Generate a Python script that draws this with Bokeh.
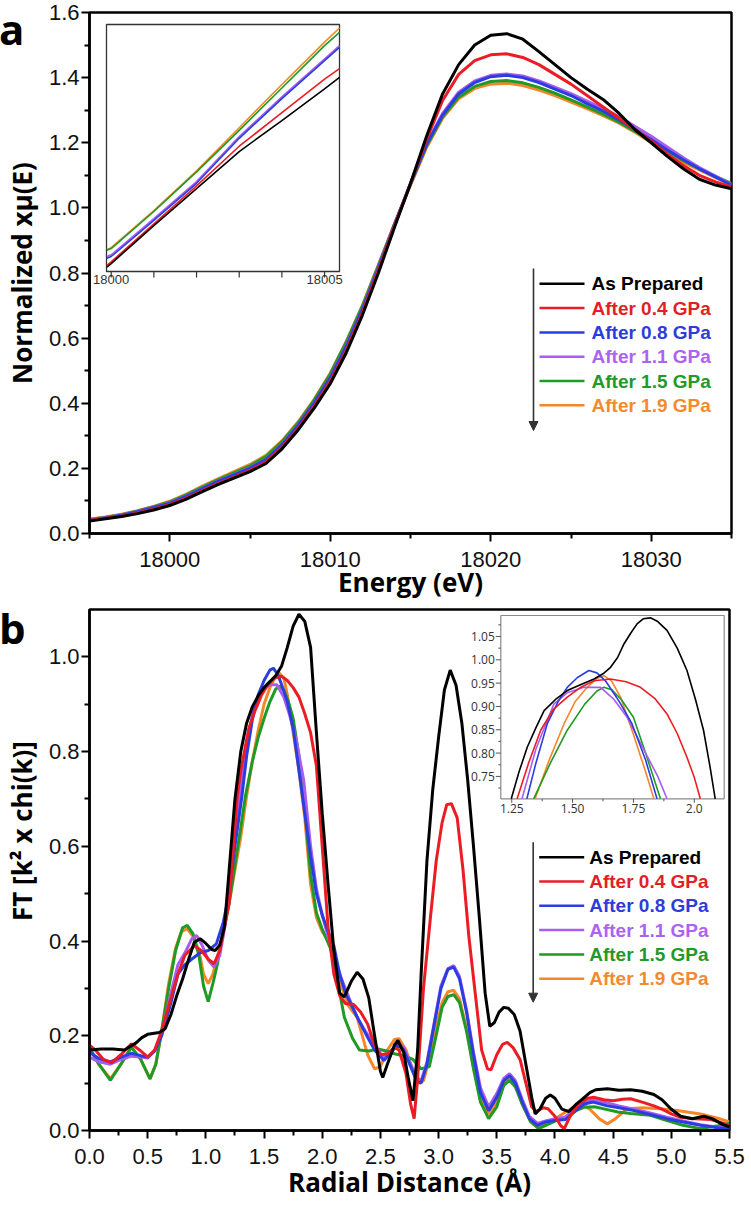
import numpy as np
from bokeh.plotting import figure
from bokeh.models import Range1d, FixedTicker, Label, Arrow, NormalHead, Div
from bokeh.layouts import column
from bokeh.embed import file_html
from bokeh.resources import INLINE
from bokeh.core.properties import value

# ======================= DATA =======================
series_names = ["As Prepared", "After 0.4 GPa", "After 0.8 GPa",
                "After 1.1 GPa", "After 1.5 GPa", "After 1.9 GPa"]
line_colors = ["#000000", "#ec1c24", "#2b3de0", "#a85cf0", "#1f9a24", "#f5862a"]
text_colors = ["#000000", "#e41e26", "#2e3cd8", "#ad62f2", "#23992a", "#f28a30"]
panel_letters = ["a", "b"]

# ---- panel a: normalized XANES ----
energy = list(range(17995, 18036))
mu_black = [0.038,0.045,0.052,0.061,0.072,0.086,0.105,0.128,0.150,0.170,0.190,0.215,0.260,0.318,0.385,0.460,0.555,0.670,0.800,0.940,1.075,1.220,1.350,1.440,1.500,1.530,1.535,1.518,1.480,1.440,1.400,1.365,1.333,1.290,1.240,1.200,1.158,1.120,1.088,1.070,1.059]
mu_red = [0.040,0.047,0.054,0.063,0.075,0.089,0.108,0.131,0.153,0.173,0.194,0.219,0.265,0.323,0.391,0.467,0.563,0.678,0.808,0.945,1.075,1.210,1.330,1.410,1.452,1.470,1.473,1.462,1.440,1.410,1.380,1.345,1.310,1.275,1.240,1.205,1.165,1.130,1.100,1.080,1.064]
mu_blue = [0.041,0.048,0.056,0.067,0.080,0.093,0.113,0.137,0.160,0.180,0.201,0.227,0.273,0.332,0.401,0.478,0.575,0.688,0.815,0.948,1.075,1.195,1.285,1.350,1.385,1.403,1.407,1.400,1.385,1.365,1.345,1.320,1.297,1.270,1.240,1.210,1.178,1.148,1.120,1.095,1.070]
mu_purple = [0.042,0.049,0.057,0.068,0.081,0.094,0.114,0.138,0.161,0.181,0.202,0.228,0.274,0.333,0.402,0.480,0.577,0.690,0.817,0.949,1.075,1.198,1.290,1.355,1.390,1.407,1.411,1.405,1.390,1.371,1.351,1.328,1.305,1.280,1.250,1.220,1.187,1.154,1.124,1.098,1.072]
mu_green = [0.043,0.050,0.058,0.069,0.082,0.097,0.118,0.142,0.165,0.186,0.208,0.236,0.282,0.340,0.410,0.490,0.588,0.698,0.823,0.950,1.072,1.190,1.280,1.340,1.373,1.388,1.391,1.384,1.370,1.352,1.332,1.310,1.288,1.263,1.235,1.205,1.175,1.145,1.120,1.097,1.075]
mu_orange = [0.044,0.051,0.059,0.070,0.083,0.099,0.120,0.145,0.168,0.190,0.212,0.240,0.285,0.343,0.412,0.492,0.590,0.700,0.825,0.950,1.070,1.185,1.275,1.335,1.367,1.380,1.383,1.376,1.362,1.345,1.325,1.305,1.283,1.260,1.232,1.200,1.170,1.140,1.117,1.093,1.070]
mu_series = [mu_black, mu_red, mu_blue, mu_purple, mu_green, mu_orange]

a_xticks = [18000, 18010, 18020, 18030]
a_xticklabels = ["18000", "18010", "18020", "18030"]
a_xminor = [17995, 18005, 18015, 18025, 18035]
a_yticks = [0.0, 0.2, 0.4, 0.6, 0.8, 1.0, 1.2, 1.4, 1.6]
a_yticklabels = ["0.0", "0.2", "0.4", "0.6", "0.8", "1.0", "1.2", "1.4", "1.6"]
a_yminor = [0.1, 0.3, 0.5, 0.7, 0.9, 1.1, 1.3, 1.5]

# inset a (zoom 18000-18005 eV)
ins_a_energy = [17999.9, 18000, 18001, 18002, 18003, 18004, 18005, 18005.35]
ins_a_black = [0.0825, 0.0845, 0.106, 0.127, 0.148, 0.1655, 0.1835, 0.190]
ins_a_red = [0.0835, 0.0855, 0.107, 0.1285, 0.151, 0.170, 0.189, 0.195]
ins_a_blue = [0.0875, 0.0885, 0.109, 0.130, 0.1555, 0.178, 0.1995, 0.207]
ins_a_purple = [0.0885, 0.0895, 0.110, 0.131, 0.1565, 0.179, 0.2005, 0.208]
ins_a_green = [0.092, 0.093, 0.114, 0.1365, 0.160, 0.184, 0.208, 0.2155]
ins_a_orange = [0.0925, 0.0935, 0.1145, 0.137, 0.1615, 0.186, 0.210, 0.218]
ins_a_series = [ins_a_black, ins_a_red, ins_a_blue, ins_a_purple, ins_a_green, ins_a_orange]
ins_a_xticks = [18000, 18001, 18002, 18003, 18004, 18005]
ins_a_xlabels = {18000: "18000", 18005: "18005"}
INS_A_XLIM = (17999.89, 18005.35)
INS_A_YLIM = (0.08, 0.22)

# ---- panel b: FT magnitude ----
r_black = [0.00,0.10,0.20,0.30,0.40,0.45,0.50,0.60,0.65,0.70,0.75,0.80,0.85,0.90,0.95,1.00,1.05,1.08,1.12,1.16,1.20,1.25,1.30,1.35,1.40,1.45,1.50,1.55,1.60,1.65,1.70,1.75,1.80,1.85,1.90,1.95,2.00,2.05,2.10,2.15,2.19,2.25,2.30,2.35,2.40,2.45,2.50,2.52,2.56,2.62,2.65,2.70,2.74,2.78,2.82,2.85,2.90,2.95,3.00,3.05,3.10,3.15,3.20,3.25,3.30,3.35,3.40,3.44,3.48,3.52,3.56,3.60,3.65,3.70,3.75,3.80,3.83,3.87,3.92,3.96,4.00,4.06,4.12,4.18,4.22,4.30,4.35,4.45,4.55,4.65,4.75,4.85,4.92,5.00,5.08,5.18,5.28,5.35,5.45,5.50]
ft_black = [0.170,0.172,0.172,0.170,0.185,0.196,0.203,0.207,0.215,0.245,0.285,0.320,0.360,0.397,0.405,0.395,0.382,0.380,0.392,0.430,0.550,0.700,0.800,0.860,0.895,0.918,0.935,0.948,0.960,0.980,1.020,1.065,1.090,1.075,1.020,0.840,0.670,0.520,0.380,0.290,0.282,0.315,0.334,0.320,0.280,0.200,0.125,0.112,0.140,0.180,0.190,0.165,0.110,0.063,0.170,0.330,0.570,0.720,0.830,0.930,0.972,0.940,0.860,0.740,0.600,0.450,0.290,0.220,0.228,0.250,0.260,0.258,0.245,0.210,0.140,0.070,0.035,0.045,0.068,0.075,0.068,0.045,0.040,0.055,0.063,0.080,0.086,0.088,0.085,0.086,0.083,0.076,0.065,0.045,0.030,0.025,0.030,0.025,0.012,0.008]
r_red = [0.00,0.05,0.12,0.19,0.27,0.36,0.43,0.50,0.56,0.62,0.70,0.76,0.82,0.90,0.96,1.02,1.07,1.12,1.20,1.25,1.27,1.30,1.37,1.42,1.48,1.53,1.59,1.65,1.70,1.75,1.80,1.85,1.90,1.95,2.00,2.05,2.10,2.15,2.20,2.27,2.33,2.39,2.45,2.50,2.56,2.62,2.66,2.72,2.76,2.79,2.82,2.87,2.93,2.98,3.03,3.07,3.11,3.16,3.21,3.26,3.31,3.37,3.42,3.45,3.50,3.55,3.59,3.64,3.70,3.75,3.80,3.84,3.90,3.94,4.00,4.05,4.08,4.13,4.20,4.28,4.34,4.42,4.50,4.58,4.65,4.75,4.85,4.92,5.00,5.08,5.20,5.34,5.45,5.50]
ft_red = [0.180,0.170,0.150,0.143,0.160,0.183,0.170,0.155,0.170,0.210,0.280,0.330,0.370,0.390,0.380,0.362,0.352,0.380,0.480,0.640,0.706,0.760,0.849,0.885,0.920,0.940,0.955,0.959,0.950,0.935,0.915,0.880,0.840,0.770,0.600,0.430,0.330,0.285,0.268,0.266,0.250,0.225,0.180,0.160,0.162,0.175,0.170,0.120,0.055,0.025,0.110,0.300,0.450,0.570,0.650,0.688,0.690,0.660,0.550,0.410,0.300,0.170,0.130,0.128,0.160,0.182,0.186,0.175,0.150,0.100,0.050,0.040,0.048,0.046,0.030,0.010,0.004,0.030,0.055,0.068,0.070,0.065,0.063,0.066,0.067,0.060,0.052,0.045,0.035,0.028,0.025,0.023,0.015,0.010]
r_blue = [0.00,0.08,0.18,0.27,0.36,0.44,0.50,0.56,0.62,0.70,0.76,0.82,0.88,0.95,1.02,1.09,1.15,1.20,1.25,1.31,1.35,1.40,1.45,1.50,1.55,1.58,1.62,1.66,1.70,1.75,1.80,1.85,1.90,1.95,2.00,2.05,2.10,2.15,2.20,2.25,2.32,2.39,2.45,2.53,2.60,2.65,2.70,2.76,2.81,2.85,2.90,2.96,3.02,3.08,3.13,3.18,3.24,3.30,3.36,3.43,3.50,3.56,3.61,3.66,3.72,3.78,3.85,3.92,4.00,4.09,4.17,4.25,4.33,4.45,4.55,4.68,4.80,4.96,5.10,5.25,5.40,5.50]
ft_blue = [0.165,0.152,0.145,0.155,0.163,0.158,0.155,0.168,0.200,0.270,0.330,0.350,0.362,0.375,0.380,0.394,0.440,0.500,0.600,0.706,0.790,0.868,0.920,0.950,0.972,0.976,0.962,0.935,0.905,0.850,0.760,0.670,0.580,0.500,0.455,0.420,0.390,0.330,0.290,0.265,0.230,0.197,0.170,0.148,0.168,0.180,0.170,0.135,0.105,0.100,0.140,0.220,0.300,0.340,0.345,0.320,0.250,0.160,0.080,0.042,0.070,0.105,0.116,0.100,0.060,0.025,0.011,0.018,0.021,0.023,0.040,0.056,0.060,0.052,0.048,0.042,0.035,0.025,0.018,0.011,0.006,0.004]
r_purple = [0.00,0.08,0.18,0.27,0.36,0.44,0.50,0.56,0.62,0.70,0.76,0.82,0.88,0.92,0.97,1.02,1.07,1.12,1.17,1.22,1.25,1.29,1.35,1.42,1.48,1.55,1.61,1.67,1.72,1.78,1.84,1.90,1.95,2.00,2.05,2.10,2.16,2.23,2.30,2.37,2.45,2.52,2.58,2.65,2.70,2.76,2.81,2.85,2.90,2.96,3.02,3.08,3.13,3.18,3.24,3.30,3.36,3.43,3.50,3.56,3.61,3.66,3.72,3.78,3.85,3.92,4.00,4.09,4.17,4.25,4.33,4.45,4.55,4.68,4.80,4.96,5.10,5.25,5.40,5.50]
ft_purple = [0.155,0.145,0.140,0.150,0.157,0.155,0.153,0.168,0.205,0.290,0.350,0.375,0.405,0.412,0.390,0.360,0.345,0.370,0.440,0.560,0.620,0.706,0.820,0.900,0.930,0.941,0.941,0.915,0.877,0.820,0.740,0.600,0.510,0.455,0.410,0.370,0.324,0.280,0.239,0.210,0.183,0.155,0.165,0.185,0.175,0.140,0.112,0.105,0.145,0.225,0.305,0.342,0.348,0.325,0.255,0.165,0.090,0.050,0.078,0.110,0.120,0.105,0.065,0.030,0.015,0.020,0.025,0.028,0.045,0.060,0.065,0.058,0.052,0.045,0.038,0.028,0.020,0.012,0.007,0.004]
r_green = [0.00,0.08,0.18,0.27,0.36,0.44,0.52,0.57,0.62,0.68,0.74,0.80,0.84,0.89,0.94,0.98,1.02,1.06,1.10,1.15,1.20,1.25,1.30,1.34,1.40,1.45,1.50,1.55,1.60,1.63,1.67,1.71,1.75,1.80,1.85,1.90,1.95,2.00,2.07,2.12,2.19,2.26,2.32,2.40,2.48,2.55,2.62,2.70,2.78,2.85,2.92,2.97,3.03,3.08,3.13,3.18,3.24,3.30,3.36,3.43,3.50,3.56,3.61,3.66,3.72,3.79,3.86,3.93,4.00,4.10,4.18,4.25,4.34,4.45,4.54,4.65,4.82,4.95,5.10,5.25,5.40,5.50]
ft_green = [0.176,0.140,0.106,0.140,0.176,0.150,0.109,0.140,0.210,0.300,0.380,0.428,0.433,0.415,0.370,0.305,0.272,0.310,0.352,0.420,0.480,0.560,0.640,0.706,0.780,0.830,0.870,0.905,0.932,0.938,0.930,0.905,0.870,0.790,0.680,0.540,0.460,0.425,0.385,0.330,0.239,0.195,0.170,0.168,0.172,0.168,0.162,0.158,0.150,0.130,0.135,0.190,0.260,0.283,0.287,0.270,0.210,0.130,0.060,0.025,0.050,0.095,0.106,0.092,0.055,0.020,0.004,0.012,0.020,0.030,0.042,0.049,0.050,0.044,0.039,0.036,0.032,0.022,0.011,0.004,0.010,0.015]
r_orange = [0.00,0.08,0.18,0.27,0.36,0.44,0.52,0.57,0.62,0.68,0.74,0.79,0.84,0.89,0.94,0.98,1.02,1.06,1.10,1.15,1.20,1.25,1.30,1.35,1.40,1.45,1.50,1.55,1.60,1.63,1.67,1.70,1.75,1.80,1.85,1.90,1.95,2.00,2.07,2.12,2.16,2.22,2.30,2.39,2.45,2.50,2.56,2.62,2.66,2.72,2.78,2.83,2.87,2.92,2.97,3.03,3.08,3.13,3.18,3.24,3.30,3.36,3.43,3.50,3.56,3.61,3.66,3.72,3.79,3.85,3.92,4.00,4.10,4.18,4.23,4.30,4.38,4.45,4.52,4.62,4.75,4.90,5.05,5.25,5.40,5.50]
ft_orange = [0.173,0.140,0.109,0.140,0.176,0.150,0.109,0.140,0.210,0.310,0.385,0.420,0.426,0.410,0.380,0.330,0.310,0.330,0.366,0.420,0.480,0.550,0.620,0.706,0.780,0.845,0.900,0.935,0.960,0.966,0.955,0.920,0.840,0.760,0.660,0.520,0.450,0.420,0.394,0.350,0.310,0.265,0.239,0.160,0.130,0.135,0.170,0.192,0.194,0.170,0.125,0.100,0.105,0.150,0.210,0.270,0.293,0.296,0.278,0.215,0.135,0.065,0.035,0.060,0.100,0.110,0.095,0.055,0.018,0.007,0.016,0.025,0.040,0.052,0.056,0.045,0.025,0.014,0.025,0.046,0.048,0.046,0.042,0.035,0.026,0.018]
r_series = [r_black, r_red, r_blue, r_purple, r_green, r_orange]
ft_series = [ft_black, ft_red, ft_blue, ft_purple, ft_green, ft_orange]

b_xticks = [0.0, 0.5, 1.0, 1.5, 2.0, 2.5, 3.0, 3.5, 4.0, 4.5, 5.0, 5.5]
b_xticklabels = ["0.0", "0.5", "1.0", "1.5", "2.0", "2.5", "3.0", "3.5", "4.0", "4.5", "5.0", "5.5"]
b_xminor = [0.25, 0.75, 1.25, 1.75, 2.25, 2.75, 3.25, 3.75, 4.25, 4.75, 5.25]
b_yticks = [0.0, 0.2, 0.4, 0.6, 0.8, 1.0]
b_yticklabels = ["0.0", "0.2", "0.4", "0.6", "0.8", "1.0"]
b_yminor = [0.1, 0.3, 0.5, 0.7, 0.9]

# inset b (zoom of first shell)
ins_b_r_black = [1.248,1.28,1.314,1.35,1.383,1.43,1.478,1.53,1.588,1.625,1.656,1.685,1.711,1.74,1.765,1.79,1.82,1.85,1.888,1.93,1.97,2.005,2.038,2.065,2.086]
ins_b_ft_black = [0.702,0.760,0.813,0.855,0.891,0.915,0.934,0.946,0.959,0.970,0.984,1.005,1.034,1.058,1.077,1.088,1.090,1.082,1.063,1.025,0.977,0.915,0.849,0.770,0.702]
ins_b_r_red = [1.272,1.32,1.369,1.42,1.478,1.53,1.588,1.656,1.72,1.779,1.84,1.888,1.93,1.97,2.00,2.025]
ins_b_ft_red = [0.702,0.780,0.849,0.893,0.920,0.940,0.955,0.959,0.953,0.941,0.916,0.884,0.842,0.791,0.748,0.702]
ins_b_r_blue = [1.312,1.35,1.396,1.44,1.478,1.52,1.567,1.60,1.635,1.69,1.744,1.80,1.847]
ins_b_ft_blue = [0.702,0.780,0.863,0.910,0.941,0.962,0.977,0.972,0.955,0.912,0.863,0.785,0.702]
ins_b_r_purple = [1.292,1.35,1.423,1.48,1.546,1.615,1.67,1.724,1.80,1.85,1.888]
ins_b_ft_purple = [0.702,0.810,0.905,0.930,0.941,0.941,0.915,0.877,0.800,0.750,0.702]
ins_b_r_green = [1.340,1.41,1.478,1.55,1.60,1.629,1.66,1.70,1.75,1.80,1.861]
ins_b_ft_green = [0.702,0.780,0.849,0.905,0.933,0.941,0.936,0.915,0.877,0.800,0.702]
ins_b_r_orange = [1.346,1.40,1.465,1.51,1.56,1.60,1.629,1.66,1.697,1.75,1.80,1.834]
ins_b_ft_orange = [0.702,0.780,0.863,0.910,0.941,0.960,0.966,0.955,0.920,0.840,0.760,0.702]
ins_b_r = [ins_b_r_black, ins_b_r_red, ins_b_r_blue, ins_b_r_purple, ins_b_r_green, ins_b_r_orange]
ins_b_ft = [ins_b_ft_black, ins_b_ft_red, ins_b_ft_blue, ins_b_ft_purple, ins_b_ft_green, ins_b_ft_orange]
ins_b_xticks = [1.25, 1.50, 1.75, 2.0]
ins_b_xlabels = ["1.25", "1.50", "1.75", "2.0"]
ins_b_xminor = [1.375, 1.625, 1.875]
ins_b_yticks = [0.75, 0.80, 0.85, 0.90, 0.95, 1.00, 1.05]
ins_b_ylabels = ["0.75", "0.80", "0.85", "0.90", "0.95", "1.00", "1.05"]
ins_b_yminor = [0.725, 0.775, 0.825, 0.875, 0.925, 0.975, 1.025, 1.075]
INS_B_XLIM = (1.205, 2.123)
INS_B_YLIM = (0.702, 1.095)

# ======================= LAYOUT / STYLE =======================
TICK_FONT = "Liberation Sans"
LABEL_FONT = "Open Sans"
LEG_ROW = 24.3


def mapped_range(lim, px0, px1, total):
    s = (lim[1] - lim[0]) / (px1 - px0)
    return Range1d(lim[0] - px0 * s, lim[0] + (total - px0) * s)


def make_fig(xr, yr, fw, fh, mbl, mbr, mbt, mbb):
    p = figure(frame_width=fw, frame_height=fh, x_range=xr, y_range=yr,
               output_backend="svg", toolbar_location=None,
               min_border_left=mbl, min_border_right=mbr,
               min_border_top=mbt, min_border_bottom=mbb)
    p.grid.visible = False
    p.background_fill_color = "white"
    p.border_fill_color = None
    p.outline_line_color = "black"
    p.outline_line_width = 2.5
    p.outline_line_alpha = 1.0
    for ax in (p.xaxis[0], p.yaxis[0]):
        ax.axis_line_width = 2.5
        ax.axis_line_color = "black"
        ax.major_tick_line_width = 2
        ax.minor_tick_line_width = 2
        ax.major_tick_out = 8
        ax.major_tick_in = 0
        ax.minor_tick_out = 5
        ax.minor_tick_in = 0
        ax.major_label_text_font = TICK_FONT
        ax.major_label_text_font_size = "22px"
        ax.major_label_text_color = "#111111"
        ax.axis_label_text_font = LABEL_FONT
        ax.axis_label_text_font_style = "bold"
        ax.axis_label_text_font_size = "26px"
        ax.axis_label_text_color = "black"
    p.xaxis.major_label_standoff = 10
    p.xaxis.axis_label_standoff = -6
    p.yaxis.major_label_standoff = 2
    p.yaxis.axis_label_standoff = 6
    return p


def add_legend(p, x_line0, x_line1, x_text, y_top, arrow_x, arrow_y0, arrow_y1):
    for i, (name, lc, tc) in enumerate(zip(series_names, line_colors, text_colors)):
        y = y_top - i * LEG_ROW
        p.segment(x0=[x_line0], y0=[y], x1=[x_line1], y1=[y], line_color=lc,
                  line_width=2.5, x_range_name="px", y_range_name="py")
        p.add_layout(Label(x=x_text, y=y, text=name, text_color=tc,
                           text_font="Liberation Sans",
                           text_font_style="bold", text_font_size="19px",
                           text_baseline="middle", x_range_name="px", y_range_name="py"))
    p.add_layout(Arrow(x_start=arrow_x, y_start=arrow_y0, x_end=arrow_x, y_end=arrow_y1,
                       line_color="#333333", line_width=1.6,
                       end=NormalHead(size=9, fill_color="#333333", line_color="#333333"),
                       x_range_name="px", y_range_name="py"))


def letter_div(txt, pad_top, line_height):
    html = ('<div style="font-family:\'Open Sans\';font-weight:bold;font-size:42px;'
            'line-height:%s;color:#000;padding-top:%dpx">%s</div>' % (line_height, pad_top, txt))
    return Div(text=html, width=40, height=60, margin=(0, 0, -60, -1))


# ---------------- panel a ----------------
FA_W, FA_H = 642, 521
pa = make_fig(Range1d(17995, 18035), Range1d(0, 1.6), FA_W, FA_H, 82, 16, 12, 73)
pa.xaxis.ticker = FixedTicker(ticks=a_xticks, minor_ticks=a_xminor)
pa.xaxis.major_label_overrides = dict(zip(a_xticks, a_xticklabels))
pa.yaxis.ticker = FixedTicker(ticks=a_yticks, minor_ticks=a_yminor)
pa.yaxis.major_label_overrides = dict(zip(a_yticks, a_yticklabels))
pa.xaxis.axis_label = "Energy (eV)"
pa.yaxis.axis_label = "Normalized xµ(E)"

pa.extra_x_ranges = {"ix": mapped_range(INS_A_XLIM, 17, 250, FA_W), "px": Range1d(0, FA_W)}
pa.extra_y_ranges = {"iy": mapped_range(INS_A_YLIM, 262, 509, FA_H), "py": Range1d(0, FA_H)}

for ys, c in reversed(list(zip(mu_series, line_colors))):
    pa.line(energy, ys, line_color=c, line_width=3)

# inset a
pa.quad(left=[INS_A_XLIM[0]], right=[INS_A_XLIM[1]], bottom=[INS_A_YLIM[0]], top=[INS_A_YLIM[1]],
        fill_color="white", line_color="#333333", line_width=1.3,
        x_range_name="ix", y_range_name="iy")
for ys, c in reversed(list(zip(ins_a_series, line_colors))):
    pa.line(ins_a_energy, ys, line_color=c, line_width=1.6, x_range_name="ix", y_range_name="iy")
ia_tick = 6 * (INS_A_YLIM[1] - INS_A_YLIM[0]) / (509 - 262)
pa.segment(x0=ins_a_xticks, y0=[INS_A_YLIM[0]] * len(ins_a_xticks),
           x1=ins_a_xticks, y1=[INS_A_YLIM[0] - ia_tick] * len(ins_a_xticks),
           line_color="#333333", line_width=1.2, x_range_name="ix", y_range_name="iy")
lab_x = list(ins_a_xlabels.keys())
pa.text(x=lab_x, y=[INS_A_YLIM[0]] * len(lab_x), text=list(ins_a_xlabels.values()),
        text_font=value("Liberation Sans"), text_font_size="13px", text_color="#333333",
        text_align="center", text_baseline="top", y_offset=3,
        x_range_name="ix", y_range_name="iy")

add_legend(pa, 450, 495, 502, 249.7, 444, 265, 103)

# ---------------- panel b ----------------
FB_W, FB_H = 640, 521
pb = make_fig(Range1d(0, 5.5), Range1d(0, 1.1), FB_W, FB_H, 84, 16, 3, 70)
pb.xaxis.ticker = FixedTicker(ticks=b_xticks, minor_ticks=b_xminor)
pb.xaxis.major_label_overrides = dict(zip(b_xticks, b_xticklabels))
pb.yaxis.ticker = FixedTicker(ticks=b_yticks, minor_ticks=b_yminor)
pb.yaxis.major_label_overrides = dict(zip(b_yticks, b_yticklabels))
pb.xaxis.axis_label = "Radial Distance (Å)"
pb.xaxis.axis_label_standoff = -3
# leading em-spaces shift the (centred) title upward, as in the reference
pb.yaxis.axis_label = "\u2003\u2003\u2003FT [k² x chi(k)]"

pb.extra_x_ranges = {"ix": mapped_range(INS_B_XLIM, 411.3, 634.7, FB_W), "px": Range1d(0, FB_W)}
pb.extra_y_ranges = {"iy": mapped_range(INS_B_YLIM, 331.7, 515, FB_H), "py": Range1d(0, FB_H)}

for xs, ys, c in reversed(list(zip(r_series, ft_series, line_colors))):
    pb.line(xs, ys, line_color=c, line_width=3)

pb.quad(left=[INS_B_XLIM[0]], right=[INS_B_XLIM[1]], bottom=[INS_B_YLIM[0]], top=[INS_B_YLIM[1]],
        fill_color="white", line_color="#8a8a8a", line_width=1.2,
        x_range_name="ix", y_range_name="iy")
for xs, ys, c in reversed(list(zip(ins_b_r, ins_b_ft, line_colors))):
    pb.line(xs, ys, line_color=c, line_width=1.6, x_range_name="ix", y_range_name="iy")

sx = (INS_B_XLIM[1] - INS_B_XLIM[0]) / (634.7 - 411.3)
sy = (INS_B_YLIM[1] - INS_B_YLIM[0]) / (515 - 331.7)
pb.segment(x0=[INS_B_XLIM[0]] * len(ins_b_yticks), y0=ins_b_yticks,
           x1=[INS_B_XLIM[0] - 5 * sx] * len(ins_b_yticks), y1=ins_b_yticks,
           line_color="#555555", line_width=1, x_range_name="ix", y_range_name="iy")
pb.segment(x0=[INS_B_XLIM[0]] * len(ins_b_yminor), y0=ins_b_yminor,
           x1=[INS_B_XLIM[0] - 2.5 * sx] * len(ins_b_yminor), y1=ins_b_yminor,
           line_color="#555555", line_width=1, x_range_name="ix", y_range_name="iy")
pb.text(x=[INS_B_XLIM[0]] * len(ins_b_yticks), y=ins_b_yticks, text=ins_b_ylabels,
        text_font=value("Open Sans"), text_font_size="12px", text_color="#333333",
        text_align="right", text_baseline="middle", x_offset=-6,
        x_range_name="ix", y_range_name="iy")
pb.segment(x0=ins_b_xticks, y0=[INS_B_YLIM[0]] * len(ins_b_xticks),
           x1=ins_b_xticks, y1=[INS_B_YLIM[0] - 4 * sy] * len(ins_b_xticks),
           line_color="#555555", line_width=1, x_range_name="ix", y_range_name="iy")
pb.segment(x0=ins_b_xminor, y0=[INS_B_YLIM[0]] * len(ins_b_xminor),
           x1=ins_b_xminor, y1=[INS_B_YLIM[0] - 2.5 * sy] * len(ins_b_xminor),
           line_color="#555555", line_width=1, x_range_name="ix", y_range_name="iy")
pb.text(x=ins_b_xticks, y=[INS_B_YLIM[0]] * len(ins_b_xticks), text=ins_b_xlabels,
        text_font=value("Open Sans"), text_font_size="12px", text_color="#333333",
        text_align="center", text_baseline="top", y_offset=5,
        x_range_name="ix", y_range_name="iy")

add_legend(pb, 449.7, 494.7, 499.7, 273.3, 443.7, 288.3, 128.3)

layout = column(letter_div(panel_letters[0], 0, "normal"), pa,
                letter_div(panel_letters[1], 1, "42px"), pb, spacing=0)
open("out.html", "w").write(file_html(layout, INLINE))
